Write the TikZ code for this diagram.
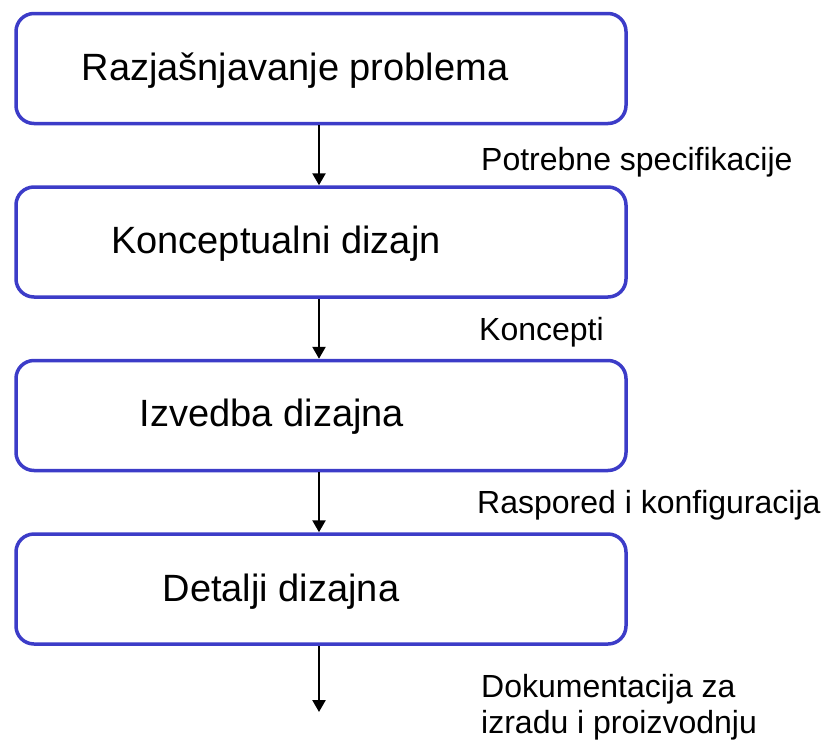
\documentclass[tikz,border=0pt]{standalone}
\usepackage{fontspec}
\setmainfont{Liberation Sans}
\usetikzlibrary{positioning, arrows.meta}

\definecolor{boxblue}{RGB}{60,60,200}

\tikzset{
  phase/.style={draw=boxblue, line width=3.5pt, rounded corners=18pt,
    minimum width=610pt, minimum height=110pt, fill=white},
  flow/.style={-{Triangle[length=12pt,width=13pt]}, line width=2.5pt},
  output/.style={font=\fontsize{32}{36}\selectfont, inner sep=0pt, align=left}
}

\begin{document}
\begin{tikzpicture}[x=1pt, y=-1pt, node distance=60pt,
  every label/.style={font=\fontsize{38}{44}\selectfont}]
\useasboundingbox (0,0) rectangle (824,747);

\node[phase, label={[xshift=-26pt,yshift=-2pt]center:Razjašnjavanje problema}] (b1) at (321,68.5) {};
\node[phase, below=of b1, label={[xshift=-45pt,yshift=-2pt]center:Konceptualni dizajn}] (b2) {};
\node[phase, below=of b2, label={[xshift=-49pt,yshift=-1pt]center:Izvedba dizajna}] (b3) {};
\node[phase, below=of b3, label={[xshift=-40pt,yshift=-3pt]center:Detalji dizajna}] (b4) {};
\coordinate (end) at (319,712);

\node[output, anchor=base west] (o1) at (481,170) {Potrebne specifikacije};
\node[output, anchor=base west] (o2) at (479,340) {Koncepti};
\node[output, anchor=base west] (o3) at (477,513) {Raspored i konfiguracija};
\node[output, anchor=north west] (o4) at (481,674) {Dokumentacija za\\izradu i proizvodnju};

\draw[flow] (b1.south -| end) -- (b2.north -| end);
\draw[flow] (b2.south -| end) -- (b3.north -| end);
\draw[flow] (b3.south -| end) -- (b4.north -| end);
\draw[flow] (b4.south -| end) -- (end);
\end{tikzpicture}
\end{document}
